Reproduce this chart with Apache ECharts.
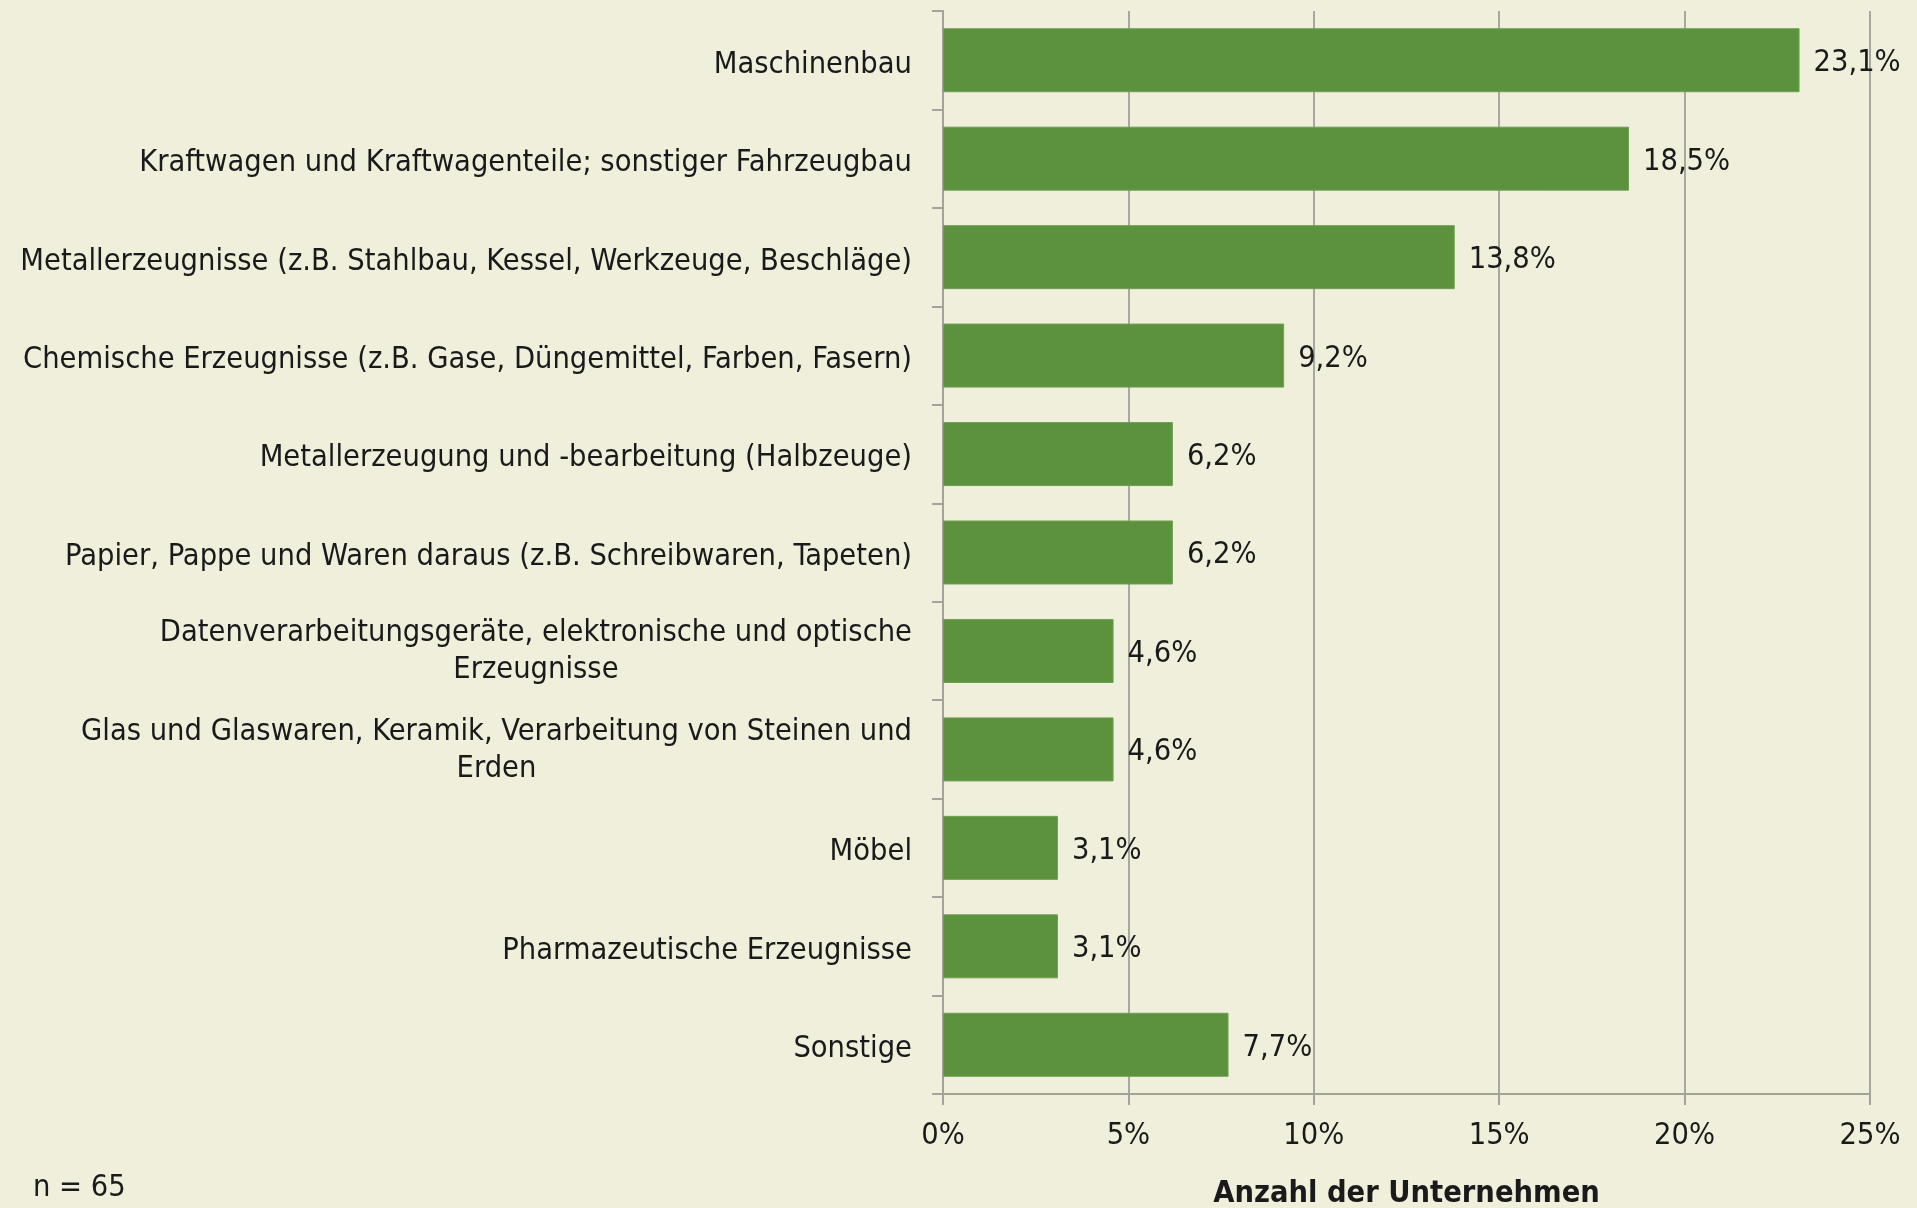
<html>
<head>
    <meta charset="utf-8">
    <title>ECharts</title>
    <script src="https://cdn.jsdelivr.net/npm/echarts@6/dist/echarts.min.js"></script>
    <style>
        body { margin: 0; background: #f0efdc; }
    </style>
</head>
<body>
    <div id="main" style="width: 1917px;height:1208px;"></div>
    <script type="text/javascript">
        var myChart = echarts.init(document.getElementById('main'));

        // Branchen (von oben nach unten)
        var categories = [
            'Maschinenbau',
            'Kraftwagen und Kraftwagenteile; sonstiger Fahrzeugbau',
            'Metallerzeugnisse (z.B. Stahlbau, Kessel, Werkzeuge, Beschläge)',
            'Chemische Erzeugnisse (z.B. Gase, Düngemittel, Farben, Fasern)',
            'Metallerzeugung und -bearbeitung (Halbzeuge)',
            'Papier, Pappe und Waren daraus (z.B. Schreibwaren, Tapeten)',
            'Datenverarbeitungsgeräte, elektronische und optische\nErzeugnisse',
            'Glas und Glaswaren, Keramik, Verarbeitung von Steinen und\nErden',
            'Möbel',
            'Pharmazeutische Erzeugnisse',
            'Sonstige'
        ];
        // Anteil in %
        var shares = [23.1, 18.5, 13.8, 9.2, 6.2, 6.2, 4.6, 4.6, 3.1, 3.1, 7.7];

        var axisName = 'Anzahl der Unternehmen';
        var note = 'n = 65';

        var font = '"DejaVu Sans Condensed", "DejaVu Sans", sans-serif';
        var textColor = '#1a1a1a';
        var lineColor = '#a3a39b';
        var fs = 30.5;

        // zweizeilige Beschriftungen etwas weniger nach unten schieben
        var catData = categories.map(function (c) {
            if (c.indexOf('\n') >= 0) {
                return { value: c, textStyle: { padding: [2, 0, 0, 0] } };
            }
            return c;
        });

        option = {
            backgroundColor: '#f0efdc',
            animation: false,
            textStyle: { fontFamily: font },
            grid: {
                left: 943,
                right: 47,
                top: 11,
                bottom: 114,
                containLabel: false,
                outerBoundsMode: 'none'
            },
            graphic: [{
                type: 'text',
                left: 33,
                top: 1173,
                style: {
                    text: note,
                    font: fs + 'px ' + font,
                    fill: textColor
                }
            }],
            xAxis: {
                type: 'value',
                min: 0,
                max: 25,
                interval: 5,
                name: axisName,
                nameLocation: 'middle',
                nameGap: 85,
                nameTextStyle: {
                    fontFamily: font,
                    fontSize: fs,
                    fontWeight: 'bold',
                    color: textColor
                },
                axisLine: { show: true, lineStyle: { color: lineColor, width: 2 } },
                axisTick: { show: true, length: 11, lineStyle: { color: lineColor, width: 2 } },
                axisLabel: {
                    formatter: '{value}%',
                    fontFamily: font,
                    fontSize: fs,
                    color: textColor,
                    margin: 27
                },
                splitLine: { show: true, lineStyle: { color: '#a8a8a2', width: 2 } }
            },
            yAxis: {
                type: 'category',
                data: catData,
                inverse: true,
                axisLine: { show: true, lineStyle: { color: lineColor, width: 2 } },
                axisTick: { show: true, length: 11, lineStyle: { color: lineColor, width: 2 } },
                axisLabel: {
                    margin: 31,
                    fontFamily: font,
                    fontSize: fs,
                    color: textColor,
                    lineHeight: 37,
                    padding: [9, 0, 0, 0],
                    formatter: function (v) {
                        var lines = v.split('\n');
                        if (lines.length === 1) {
                            return v;
                        }
                        return lines.map(function (l) {
                            return '{c|' + l + '}';
                        }).join('\n');
                    },
                    rich: {
                        c: {
                            align: 'center',
                            fontFamily: font,
                            fontSize: fs,
                            lineHeight: 37,
                            color: textColor
                        }
                    }
                }
            },
            series: [{
                type: 'bar',
                data: shares,
                barWidth: '65%',
                itemStyle: {
                    color: '#5c923e',
                    borderColor: '#6e9f52',
                    borderWidth: 1
                },
                label: {
                    show: true,
                    position: 'right',
                    distance: 14,
                    offset: [0, 3],
                    fontFamily: font,
                    fontSize: fs,
                    color: textColor,
                    formatter: function (p) {
                        return p.value.toFixed(1).replace('.', ',') + '%';
                    }
                }
            }]
        };

        myChart.setOption(option);
    </script>
</body>
</html>
